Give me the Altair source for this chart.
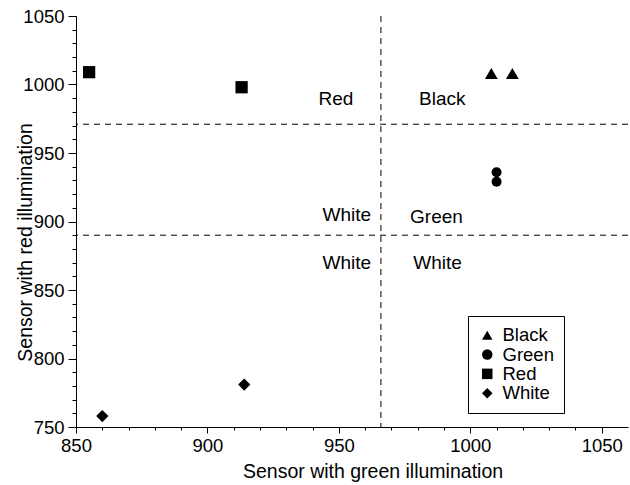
import altair as alt
import pandas as pd

# ---- data ----
point_type = ["Red", "Red", "Black", "Black", "Green", "Green", "White", "White"]
point_x = [855, 913, 1008, 1016, 1010, 1010, 860, 914]
point_y = [1009, 998, 1008, 1008, 936, 929, 758, 781]

vline_x = [966]
hline_y = [971, 890]

region_text = ["Red", "Black", "White", "Green", "White", "White"]
region_x = [955.5, 980.5, 962.3, 977.1, 962.3, 978.3]
region_y = [989.5, 989.5, 905, 903.5, 870, 870]
region_align = ["right", "left", "right", "left", "right", "left"]

legend_order = ["Black", "Green", "Red", "White"]
legend_shapes = ["triangle-up", "circle", "square", "diamond"]
shape_sizes = [165, 100, 150, 150]

x_major = [850, 900, 950, 1000, 1050]
y_major = [750, 800, 850, 900, 950, 1000, 1050]
x_minor = list(range(850, 1060, 10))
y_minor = list(range(750, 1060, 10))

FONT = "Liberation Sans"

pts = pd.DataFrame({"type": point_type, "x": point_x, "y": point_y})
vl = pd.DataFrame({"x": vline_x})
hl = pd.DataFrame({"y": hline_y})
txt = pd.DataFrame({"t": region_text, "x": region_x, "y": region_y, "a": region_align})

xscale = alt.Scale(domain=[850, 1060], nice=False, zero=False)
yscale = alt.Scale(domain=[750, 1050], nice=False, zero=False)
shape_scale = alt.Scale(domain=legend_order, range=legend_shapes)

common = dict(grid=False, domainColor="black", tickColor="black", labelColor="black",
              labelFontSize=18.5, labelFont=FONT, titleFont=FONT, titleFontSize=19.5,
              titleFontWeight="normal", titleColor="black", labelFlush=False,
              labelOverlap=False, format="d", tickWidth=1, domainWidth=1)

xaxis = alt.Axis(values=x_major, orient="bottom", tickSize=6, labelPadding=3,
                 titleX=296.5, titleY=50, titleAlign="center", titleBaseline="alphabetic",
                 **common)
yaxis = alt.Axis(values=y_major, orient="left", tickSize=8, labelPadding=4,
                 titleX=-45, titleY=226, titleAlign="center", titleBaseline="alphabetic",
                 **common)
xaxis_minor = alt.Axis(values=x_minor, orient="bottom", tickSize=3, labels=False,
                       domain=False, grid=False, title=None, tickColor="black", tickWidth=1)
yaxis_minor = alt.Axis(values=y_minor, orient="left", tickSize=4, labels=False,
                       domain=False, grid=False, title=None, tickColor="black", tickWidth=1)

legend = alt.Legend(
    title=None, orient="none", legendX=392, legendY=300,
    strokeColor="black", fillColor="white", padding=10,
    labelFontSize=18.5, labelFont=FONT, labelColor="black",
    symbolFillColor="black", symbolStrokeColor="black", symbolSize=110,
    symbolOffset=0, labelOffset=6, rowPadding=0.3, symbolType="circle",
)

point_layers = []
for i, (t, s) in enumerate(zip(legend_order, shape_sizes)):
    first = i == 0
    layer = alt.Chart(pts).transform_filter(alt.datum.type == t).mark_point(
        filled=True, opacity=1, color="black", size=s
    ).encode(
        x=alt.X("x:Q", scale=xscale, axis=xaxis if first else None,
                title="Sensor with green illumination"),
        y=alt.Y("y:Q", scale=yscale, axis=yaxis if first else None,
                title="Sensor with red illumination"),
        shape=alt.Shape("type:N", scale=shape_scale, legend=legend),
    )
    point_layers.append(layer)

minor = alt.Chart(vl).mark_rule(opacity=0).encode(
    x=alt.X("x:Q", scale=xscale, axis=xaxis_minor),
    y=alt.value(0),
)
minor_y = alt.Chart(hl).mark_rule(opacity=0).encode(
    y=alt.Y("y:Q", scale=yscale, axis=yaxis_minor),
    x=alt.value(0),
)

vrules = alt.Chart(vl).mark_rule(color="black", strokeDash=[6, 5], strokeWidth=1).encode(
    x=alt.X("x:Q", scale=xscale, axis=None)
)
hrules = alt.Chart(hl).mark_rule(color="black", strokeDash=[6, 5], strokeWidth=1).encode(
    y=alt.Y("y:Q", scale=yscale, axis=None)
)

labels_left = alt.Chart(txt[txt.a == "left"]).mark_text(
    fontSize=19, font=FONT, color="black", baseline="middle", align="left"
).encode(x=alt.X("x:Q", scale=xscale, axis=None), y=alt.Y("y:Q", scale=yscale, axis=None), text="t:N")
labels_right = alt.Chart(txt[txt.a == "right"]).mark_text(
    fontSize=19, font=FONT, color="black", baseline="middle", align="right"
).encode(x=alt.X("x:Q", scale=xscale, axis=None), y=alt.Y("y:Q", scale=yscale, axis=None), text="t:N")

chart = alt.layer(minor, minor_y, vrules, hrules, labels_left, labels_right, *point_layers).resolve_axis(
    x="independent", y="independent"
).properties(
    width=552, height=411,
    autosize=alt.AutoSizeParams(type="none"),
    padding={"left": 76, "top": 16, "right": 2, "bottom": 58},
    background="white",
).configure_view(stroke=None)

chart.save("out.html", embed_options={"renderer": "svg", "actions": False})
